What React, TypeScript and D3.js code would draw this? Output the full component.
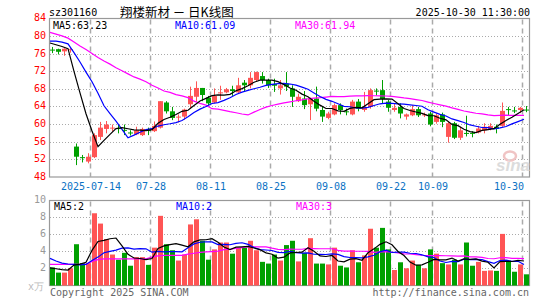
import { useEffect, useRef } from 'react';
import * as d3 from 'd3';

// trading days shown (2025)
const dates = [
  '07-03', '07-04', '07-07', '07-08', '07-09', '07-10', '07-11', '07-14', '07-15', '07-16',
  '07-17', '07-18', '07-21', '07-22', '07-23', '07-24', '07-25', '07-28', '07-29', '07-30',
  '07-31', '08-01', '08-04', '08-05', '08-06', '08-07', '08-08', '08-11', '08-12', '08-13',
  '08-14', '08-15', '08-18', '08-19', '08-20', '08-21', '08-22', '08-25', '08-26', '08-27',
  '08-28', '08-29', '09-01', '09-02', '09-03', '09-04', '09-05', '09-08', '09-09', '09-10',
  '09-11', '09-12', '09-15', '09-16', '09-17', '09-18', '09-19', '09-22', '09-23', '09-24',
  '09-25', '09-26', '09-29', '09-30', '10-09', '10-10', '10-13', '10-14', '10-15', '10-16',
  '10-17', '10-20', '10-21', '10-22', '10-23', '10-24', '10-27', '10-28', '10-29', '10-30',
];

const opens = [
  76.9, 77.0, 76.5, 76.9, 54.9, 52.5, 51.5, 52.5, 57.1, 58.9,
  59.1, 59.1, 58.7, 58.1, 57.7, 57.5, 58.7, 58.4, 59.2, 64.9,
  62.9, 61.6, 61.7, 64.5, 66.2, 68.2, 66.0, 64.9, 67.1, 67.2,
  67.9, 67.2, 69.4, 68.8, 70.0, 70.9, 70.0, 69.1, 68.1, 69.2,
  68.1, 65.2, 65.8, 64.5, 65.8, 63.2, 61.4, 62.2, 64.3, 62.9,
  62.2, 65.1, 63.2, 63.9, 67.6, 67.7, 65.1, 63.2, 63.9, 61.7,
  62.0, 63.4, 62.1, 62.4, 60.5, 62.2, 57.1, 60.2, 56.9, 58.0,
  58.0, 58.1, 58.6, 58.9, 59.4, 59.6, 63.4, 63.1, 63.2, 63.3,
];
const closes = [
  76.8, 76.4, 77.1, 77.0, 52.6, 52.4, 52.6, 57.5, 59.2, 59.9,
  59.2, 59.0, 58.6, 58.0, 58.6, 58.9, 58.6, 59.6, 65.2, 62.9,
  61.4, 61.7, 63.3, 66.4, 68.2, 66.6, 64.7, 66.4, 67.2, 67.9,
  67.5, 68.8, 68.8, 70.5, 71.8, 70.0, 68.8, 68.7, 68.8, 68.5,
  66.2, 66.2, 64.3, 65.8, 63.5, 61.7, 62.4, 64.3, 63.2, 62.8,
  65.1, 63.5, 63.9, 67.7, 67.5, 65.7, 63.7, 63.7, 62.4, 62.2,
  63.4, 62.0, 62.2, 59.9, 62.0, 60.5, 60.2, 56.9, 58.6, 57.9,
  57.9, 59.0, 59.4, 59.6, 58.9, 63.0, 63.3, 63.0, 63.7, 63.2,
];
const highs = [
  77.5, 77.1, 77.2, 77.4, 55.6, 53.0, 53.4, 57.9, 60.5, 60.7,
  59.9, 59.9, 59.9, 58.6, 59.4, 59.2, 59.2, 60.6, 65.2, 65.2,
  63.9, 62.2, 63.5, 68.5, 69.7, 68.2, 66.4, 68.1, 68.7, 68.2,
  68.7, 70.5, 70.0, 71.8, 71.9, 71.8, 70.3, 70.3, 70.0, 71.8,
  68.8, 66.9, 67.5, 66.0, 68.5, 63.9, 62.8, 64.7, 64.7, 63.5,
  65.5, 65.7, 67.3, 68.1, 68.1, 70.0, 65.5, 64.7, 64.7, 62.4,
  64.3, 63.9, 62.6, 62.8, 62.4, 62.6, 60.5, 60.5, 59.4, 61.9,
  58.4, 59.6, 60.2, 60.2, 59.9, 64.9, 63.9, 63.9, 63.9, 64.1,
];
const lows = [
  76.1, 75.8, 75.5, 76.2, 50.7, 51.3, 51.1, 52.3, 56.4, 57.9,
  58.3, 57.9, 57.5, 57.4, 57.5, 57.3, 57.5, 58.2, 59.0, 62.4,
  60.9, 60.4, 61.0, 63.5, 65.1, 65.2, 64.3, 64.7, 65.5, 67.0,
  66.4, 67.0, 67.5, 68.1, 69.6, 69.2, 68.2, 67.3, 66.7, 67.5,
  63.9, 65.0, 63.4, 60.9, 62.9, 60.5, 61.1, 62.0, 62.2, 62.0,
  62.0, 62.9, 62.8, 63.5, 66.5, 64.7, 62.8, 62.8, 61.3, 61.0,
  61.8, 61.6, 61.6, 59.5, 60.1, 59.3, 55.8, 56.6, 56.4, 57.2,
  57.0, 57.9, 57.9, 58.6, 57.9, 59.4, 62.0, 62.5, 62.5, 62.7,
];
const volumes = [
  2.1, 1.5, 1.5, 2.0, 4.8, 2.6, 2.6, 8.4, 7.2, 5.4,
  3.6, 3.0, 3.8, 2.3, 3.3, 3.3, 2.4, 4.4, 8.1, 4.8,
  4.1, 2.9, 3.6, 7.1, 7.7, 5.2, 3.0, 4.2, 5.0, 5.0,
  3.7, 4.4, 4.4, 5.2, 4.1, 2.75, 2.55, 3.6, 2.9, 4.7,
  5.2, 2.8, 3.8, 5.5, 2.55, 2.55, 2.45, 4.4, 2.3, 2.1,
  4.1, 2.7, 3.5, 6.6, 4.4, 6.7, 4.2, 1.8, 2.7, 2.0,
  2.9, 2.4, 2.0, 4.2, 3.7, 2.6, 2.45, 3.0, 2.45, 5.0,
  2.3, 2.75, 1.7, 1.75, 1.7, 6.0, 2.9, 1.6, 2.45, 1.3,
];

// moving averages before enough in-window history exists
const priceMa5Head = [78.4, 78.0, 77.6, 77.1];
const priceMa10Head = [78.8, 78.8, 78.6, 78.2, 76.2, 74.1, 71.8, 69.6, 67.0];
const priceMa30Head = [
  80.8, 80.4, 80.0, 79.5, 78.6, 77.7, 76.9, 76.0, 75.1, 74.3,
  73.6, 72.8, 72.1, 71.4, 70.7, 70.2, 69.6, 68.8, 68.2, 67.5,
  67.2, 66.7, 66.4, 66.0, 65.2, 64.7, 64.3, 63.5, 63.4,
];
const volMa5Head = [2.05, 1.95, 1.85, 1.8];
const volMa10Head = [3.15, 2.85, 2.6, 2.5, 2.45, 2.4, 2.45, 2.9, 3.3];
const volMa30Head = [
  2.45, 2.45, 2.45, 2.45, 2.45, 2.45, 2.45, 2.8, 3.0, 3.1,
  3.1, 3.1, 3.1, 3.1, 3.1, 3.1, 3.1, 3.3, 3.45, 3.5,
  3.5, 3.5, 3.5, 3.65, 3.75, 3.85, 3.9, 3.95, 4.0,
];

const priceTicks = [84, 80, 76, 72, 68, 64, 60, 56, 52, 48];
const volTicks = [10, 8, 6, 4, 2];
const xTickDates = ['07-14', '07-28', '08-11', '08-25', '09-08', '09-22', '10-09', '10-30'];
const xTickLabels = ['2025-07-14', '07-28', '08-11', '08-25', '09-08', '09-22', '10-09', '10-30'];
const priceMaLabels = ['MA5:63.23', 'MA10:61.09', 'MA30:61.94'];
const volMaLabels = ['MA5:2', 'MA10:2', 'MA30:3'];

const MA_COLORS = ['#000000', '#0000ff', '#ff00ff'];
const UP = '#ff5555';
const DOWN = '#00a000';
const MONO = '"DejaVu Sans Mono", monospace';

function movingAvg(values: number[], n: number, head: number[]) {
  return values.map((_, i) =>
    i < n - 1 ? head[i] : (d3.mean(values.slice(i - n + 1, i + 1)) as number)
  );
}

const App = () => {
  const svgRef = useRef<SVGSVGElement>(null);

  useEffect(() => {
    if (!svgRef.current) return;
    const svg = d3.select(svgRef.current);
    svg.selectAll('*').remove();

    const left = 49;
    const right = 529;
    const priceTop = 18.5;
    const priceBottom = 177;
    const volTop = 200.5;
    const volBottom = 285.5;

    const x = d3.scaleLinear().domain([0, dates.length]).range([50, 530]);
    const yP = d3.scaleLinear().domain([48, 84]).range([priceBottom, 18.3]);
    const yV = d3.scaleLinear().domain([0, 10]).range([volBottom, 199.5]);
    const idx = d3.range(dates.length);
    const isUp = (i: number) => closes[i] >= opens[i];

    // frames
    [[priceTop, priceBottom], [volTop, volBottom]].forEach(([t, b]) => {
      svg.append('rect')
        .attr('x', left + 0.5).attr('y', t)
        .attr('width', right - left).attr('height', b - t)
        .attr('fill', 'none').attr('stroke', '#999').attr('stroke-width', 1.2);
    });

    // horizontal dotted grid
    priceTicks.filter(v => v > 48 && v < 84).forEach(v => {
      svg.append('line')
        .attr('x1', left + 1).attr('x2', right)
        .attr('y1', Math.round(yP(v)) + 0.5).attr('y2', Math.round(yP(v)) + 0.5)
        .attr('stroke', '#aaa').attr('stroke-dasharray', '1,2');
    });
    volTicks.filter(v => v < 10).forEach(v => {
      svg.append('line')
        .attr('x1', left + 1).attr('x2', right)
        .attr('y1', Math.round(yV(v)) + 0.5).attr('y2', Math.round(yV(v)) + 0.5)
        .attr('stroke', '#aaa').attr('stroke-dasharray', '1,2');
    });

    // vertical dashed grid
    xTickDates.forEach(d => {
      const xi = Math.round(x(dates.indexOf(d))) - 1.5;
      [[priceTop, priceBottom], [volTop, volBottom]].forEach(([t, b]) => {
        svg.append('line')
          .attr('x1', xi).attr('x2', xi).attr('y1', t + 1).attr('y2', b)
          .attr('stroke', '#aaa').attr('stroke-width', 1.5)
          .attr('stroke-dasharray', '5,4');
      });
    });

    // price axis labels
    svg.append('g').selectAll('text').data(priceTicks).enter().append('text')
      .attr('x', 46).attr('y', d => yP(d))
      .attr('text-anchor', 'end').attr('dominant-baseline', 'middle')
      .attr('font-family', MONO).attr('font-size', 10).attr('fill', '#f00')
      .text(d => d);

    // volume axis labels
    svg.append('g').selectAll('text').data(volTicks).enter().append('text')
      .attr('x', 46).attr('y', d => yV(d))
      .attr('text-anchor', 'end').attr('dominant-baseline', 'middle')
      .attr('font-family', MONO).attr('font-size', 10).attr('fill', '#999')
      .text(d => d);
    svg.append('text')
      .attr('x', 28).attr('y', 289.5)
      .attr('font-family', MONO).attr('font-size', 10).attr('fill', '#bbb')
      .text('x万');

    // x labels
    xTickDates.forEach((d, k) => {
      const last = k === xTickDates.length - 1;
      svg.append('text')
        .attr('x', last ? x(dates.indexOf(d)) : x(dates.indexOf(d)) - 1)
        .attr('y', 189.5)
        .attr('text-anchor', last ? 'end' : 'middle')
        .attr('font-family', MONO).attr('font-size', 10).attr('fill', '#0b72c4')
        .text(xTickLabels[k]);
    });

    // sina watermark
    svg.append('ellipse')
      .attr('cx', 510).attr('cy', 156).attr('rx', 6).attr('ry', 4.5)
      .attr('fill', 'none').attr('stroke', '#f0c4c4').attr('stroke-width', 2.5);
    svg.append('text')
      .attr('x', 496).attr('y', 171)
      .attr('font-family', 'Liberation Sans, sans-serif').attr('font-size', 17)
      .attr('font-weight', 'bold').attr('font-style', 'italic')
      .attr('fill', '#dcdcdc').text('sina');

    // candles
    const candles = svg.append('g');
    idx.forEach(i => {
      const c = isUp(i) ? UP : DOWN;
      const xi = x(i);
      candles.append('line')
        .attr('x1', xi + 2.5).attr('x2', xi + 2.5)
        .attr('y1', yP(highs[i])).attr('y2', yP(lows[i]))
        .attr('stroke', c).attr('stroke-width', 1);
      const top = yP(Math.max(opens[i], closes[i]));
      const bot = yP(Math.min(opens[i], closes[i]));
      candles.append('rect')
        .attr('x', xi).attr('y', top)
        .attr('width', 5).attr('height', Math.max(1, bot - top))
        .attr('fill', c);
    });

    // volume bars
    svg.append('g').selectAll('rect').data(idx).enter().append('rect')
      .attr('x', i => x(i)).attr('y', i => yV(volumes[i]))
      .attr('width', 5).attr('height', i => volBottom - yV(volumes[i]))
      .attr('fill', i => (isUp(i) ? UP : DOWN));

    // moving averages
    const priceMas = [
      movingAvg(closes, 5, priceMa5Head),
      movingAvg(closes, 10, priceMa10Head),
      movingAvg(closes, 30, priceMa30Head),
    ];
    const volMas = [
      movingAvg(volumes, 5, volMa5Head),
      movingAvg(volumes, 10, volMa10Head),
      movingAvg(volumes, 30, volMa30Head),
    ];
    const lineP = d3.line<number>().x((_, i) => x(i)).y(d => yP(d));
    const lineV = d3.line<number>().x((_, i) => x(i)).y(d => yV(d));
    [2, 1, 0].forEach(k => {
      svg.append('path').datum(priceMas[k])
        .attr('fill', 'none').attr('stroke', MA_COLORS[k]).attr('stroke-width', 1.2)
        .attr('d', lineP);
      svg.append('path').datum(volMas[k])
        .attr('fill', 'none').attr('stroke', MA_COLORS[k]).attr('stroke-width', 1.2)
        .attr('d', lineV);
    });

    // header labels
    const maX = [53, 175, 295];
    priceMaLabels.forEach((t, k) => {
      svg.append('text')
        .attr('x', maX[k]).attr('y', 29)
        .attr('font-family', MONO).attr('font-size', 10).attr('fill', MA_COLORS[k])
        .text(t);
    });
    volMaLabels.forEach((t, k) => {
      svg.append('text')
        .attr('x', maX[k] + 1).attr('y', 210)
        .attr('font-family', MONO).attr('font-size', 10).attr('fill', MA_COLORS[k])
        .text(t);
    });

    svg.append('text')
      .attr('x', 49).attr('y', 16)
      .attr('font-family', MONO).attr('font-size', 10).attr('fill', '#000')
      .text('sz301160');
    svg.append('text')
      .attr('x', 120).attr('y', 16.5)
      .attr('font-family', '"Noto Sans CJK SC", sans-serif').attr('font-size', 12.5)
      .attr('fill', '#000')
      .text('翔楼新材 － 日K线图');
    svg.append('text')
      .attr('x', 530).attr('y', 16).attr('text-anchor', 'end')
      .attr('font-family', MONO).attr('font-size', 10).attr('fill', '#000')
      .text('2025-10-30 11:30:00');

    // footer
    svg.append('text')
      .attr('x', 50).attr('y', 296)
      .attr('font-family', MONO).attr('font-size', 10).attr('fill', '#666')
      .text('Copyright 2025 SINA.COM');
    svg.append('text')
      .attr('x', 529).attr('y', 296).attr('text-anchor', 'end')
      .attr('font-family', MONO).attr('font-size', 10).attr('fill', '#666')
      .text('http://finance.sina.com.cn');
  }, []);

  return (
    <svg
      ref={svgRef}
      width={545}
      height={300}
      style={{ position: 'absolute', left: 0, top: 0, background: '#fff' }}
    />
  );
};

export default App;
